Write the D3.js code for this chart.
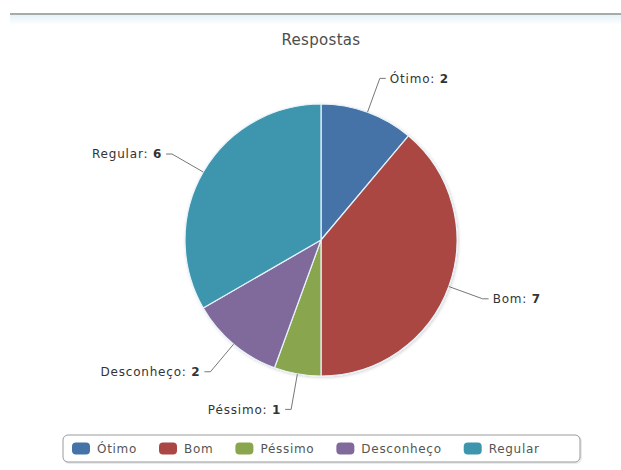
<!DOCTYPE html>
<html>
<head>
<meta charset="utf-8">
<script src="https://cdn.jsdelivr.net/npm/d3@7/dist/d3.min.js"></script>
<style>
  html, body { margin: 0; padding: 0; background: #ffffff; }
  svg { display: block; font-family: "DejaVu Sans", Verdana, sans-serif; }
</style>
</head>
<body>
<svg id="chart" width="621" height="470"></svg>
<script>
// ---- data ----
const categories = ["Ótimo", "Bom", "Péssimo", "Desconheço", "Regular"];
const values = [2, 7, 1, 2, 6];
const title = "Respostas";
const palette = ["#4572A7", "#AA4643", "#89A54E", "#80699B", "#3D96AE"];

const data = categories.map((c, i) => ({ name: c, value: values[i], color: palette[i] }));

const W = 621, H = 470;
const cx = 321, cy = 240, R = 136;

const svg = d3.select("#chart");

// defs
const defs = svg.append("defs");
const grad = defs.append("linearGradient").attr("id", "topband")
  .attr("x1", 0).attr("y1", 0).attr("x2", 0).attr("y2", 1);
grad.append("stop").attr("offset", "0%").attr("stop-color", "#e6f2f8");
grad.append("stop").attr("offset", "100%").attr("stop-color", "#ffffff");
const shadow = defs.append("filter").attr("id", "shadow")
  .attr("x", "-20%").attr("y", "-20%").attr("width", "140%").attr("height", "140%");
shadow.append("feDropShadow").attr("dx", 1).attr("dy", 1).attr("stdDeviation", 1.5)
  .attr("flood-color", "#000").attr("flood-opacity", 0.18);

// top rule
svg.append("rect").attr("x", 10).attr("y", 15).attr("width", W - 10).attr("height", 10)
  .attr("fill", "url(#topband)");
svg.append("line").attr("x1", 10).attr("x2", W).attr("y1", 14).attr("y2", 14)
  .attr("stroke", "#a3abab").attr("stroke-width", 2);

// title
svg.append("text").attr("x", cx).attr("y", 45).attr("text-anchor", "middle")
  .attr("font-size", 15).attr("fill", "#4d4d4d").attr("letter-spacing", 0.3).text(title);

// pie
const pie = d3.pie().value(d => d.value).sort(null);
const arcs = pie(data);
const arc = d3.arc().innerRadius(0).outerRadius(R);

const g = svg.append("g").attr("transform", `translate(${cx},${cy})`);
g.append("g").attr("filter", "url(#shadow)")
  .selectAll("path").data(arcs).join("path")
  .attr("d", arc)
  .attr("fill", d => d.data.color)
  .attr("stroke", "#e8f4fb").attr("stroke-width", 1.2).attr("stroke-linejoin", "round");

// labels with connectors
const bendR = R + 36;
arcs.forEach(a => {
  const mid = (a.startAngle + a.endAngle) / 2;
  const s = Math.sin(mid), c = -Math.cos(mid);
  const right = s >= 0;
  const ex = s * R, ey = c * R;
  const bx = s * bendR, by = c * bendR;
  const hx = bx + (right ? 6 : -6);
  g.append("path")
    .attr("d", `M${ex},${ey}L${bx},${by}L${hx},${by}`)
    .attr("fill", "none").attr("stroke", "#777").attr("stroke-width", 1);
  const t = g.append("text")
    .attr("x", hx + (right ? 4 : -4)).attr("y", by).attr("dy", "0.35em")
    .attr("text-anchor", right ? "start" : "end")
    .attr("font-size", 12).attr("fill", "#333").attr("letter-spacing", 0.8);
  t.append("tspan").text(a.data.name + ": ");
  t.append("tspan").attr("font-weight", "bold").text(a.data.value);
});

// legend
const box = { x: 63, y: 435, w: 517, h: 27 };
svg.append("rect").attr("x", box.x + 1).attr("y", box.y + 1).attr("width", box.w).attr("height", box.h)
  .attr("rx", 5).attr("fill", "none").attr("stroke", "#000").attr("stroke-opacity", 0.08).attr("stroke-width", 2);
svg.append("rect").attr("x", box.x).attr("y", box.y).attr("width", box.w).attr("height", box.h)
  .attr("rx", 5).attr("fill", "#fff").attr("stroke", "#9a9a9a").attr("stroke-width", 1);

const lg = svg.append("g").attr("transform", `translate(${box.x + 9},0)`);
let lx = 0;
const ly = box.y + box.h / 2;
data.forEach(d => {
  const item = lg.append("g").attr("transform", `translate(${lx},0)`);
  item.append("rect").attr("x", 0).attr("y", ly - 6).attr("width", 18).attr("height", 12)
    .attr("rx", 4).attr("fill", d.color);
  const t = item.append("text").attr("x", 25).attr("y", ly).attr("dy", "0.35em")
    .attr("font-size", 12).attr("fill", "#555").attr("letter-spacing", 0.7).text(d.name);
  lx += 25 + t.node().getComputedTextLength() + 22;
});
</script>
</body>
</html>
